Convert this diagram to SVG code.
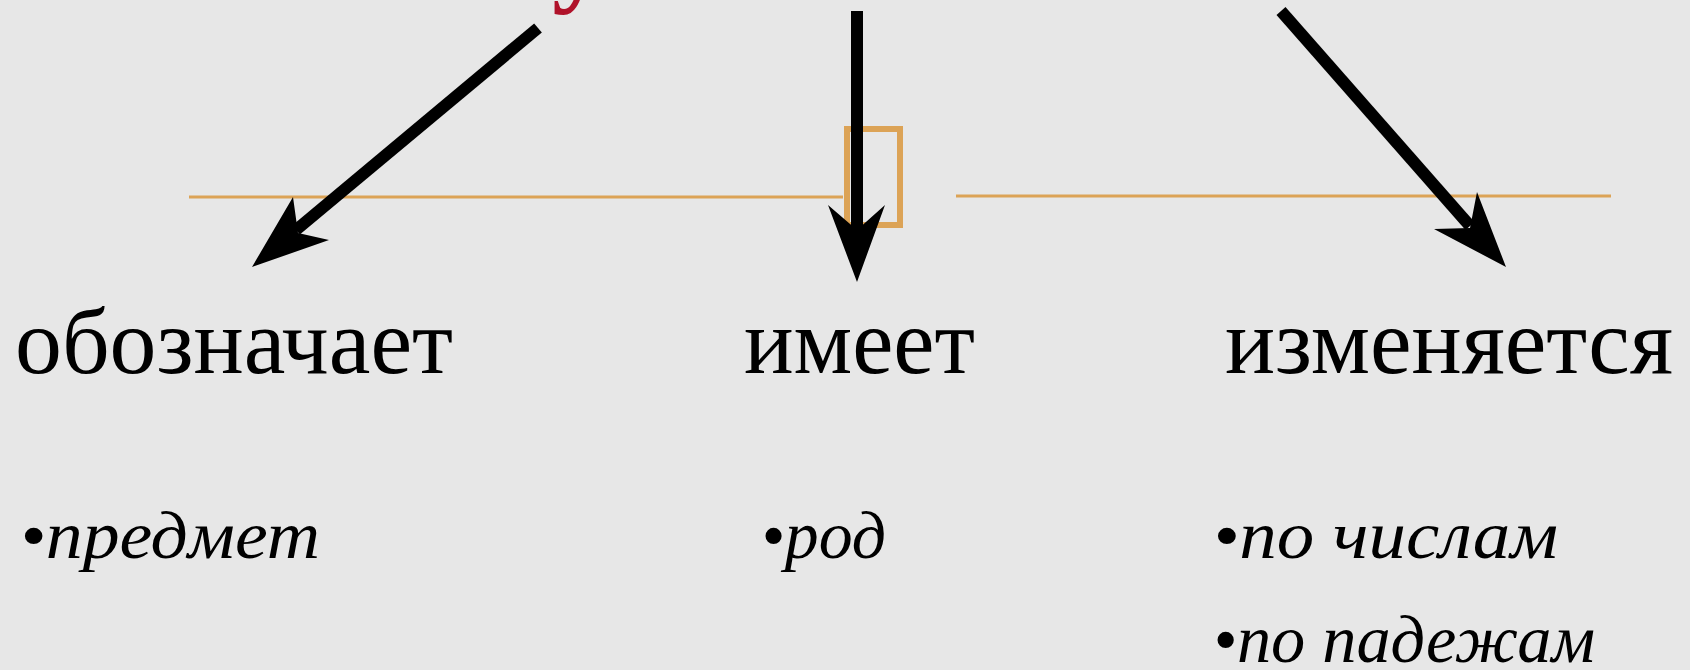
<svg xmlns="http://www.w3.org/2000/svg" width="1690" height="670" viewBox="0 0 1690 670">
<style>
.bg{fill:#e7e7e7}
.rule{stroke:#dca356;stroke-width:3;fill:none}
.box{stroke:#dca356;stroke-width:6;fill:none}
.shaft{stroke:#000;stroke-width:12;fill:none}
.head{fill:#000}
.h{font-family:"Liberation Serif","DejaVu Serif",serif;font-size:94px;fill:#000}
.b{font-family:"Liberation Serif","DejaVu Serif",serif;font-size:68px;font-style:italic;fill:#000}
.red{font-family:"Liberation Serif",serif;font-size:110px;font-weight:bold;fill:#b0122a}
</style>
<rect class="bg" x="0" y="0" width="1690" height="670"/>
<text class="red" x="552" y="-8">у</text>
<g id="lines">
<line class="rule" x1="189" y1="197" x2="843" y2="197"/>
<line class="rule" x1="956" y1="196" x2="1611" y2="196"/>
<rect class="box" x="847" y="129" width="53" height="96"/>
</g>
<g id="connectors">
<line class="shaft" x1="538" y1="28" x2="296" y2="230"/>
<polygon class="head" points="252,267 293,197 298,233 329,240"/>
<line class="shaft" x1="857" y1="11" x2="857" y2="232"/>
<polygon class="head" points="857,282 828,205 857,230 885,205"/>
<line class="shaft" x1="1281" y1="11" x2="1470" y2="226"/>
<polygon class="head" points="1506,267 1434,229 1470,228 1477,192"/>
</g>
<g id="n1">
<text class="h" x="15" y="373" textLength="438" lengthAdjust="spacingAndGlyphs">обозначает</text>
<text class="b" x="20" y="558" textLength="300" lengthAdjust="spacingAndGlyphs">•предмет</text>
</g>
<g id="n2">
<text class="h" x="744" y="373" textLength="231" lengthAdjust="spacingAndGlyphs">имеет</text>
<text class="b" x="761" y="558" textLength="125" lengthAdjust="spacingAndGlyphs">•род</text>
</g>
<g id="n3">
<text class="h" x="1225" y="373" textLength="448" lengthAdjust="spacingAndGlyphs">изменяется</text>
<text class="b" x="1213" y="558" textLength="345" lengthAdjust="spacingAndGlyphs">•по числам</text>
<text class="b" x="1213" y="662" textLength="382" lengthAdjust="spacingAndGlyphs">•по падежам</text>
</g>
</svg>
